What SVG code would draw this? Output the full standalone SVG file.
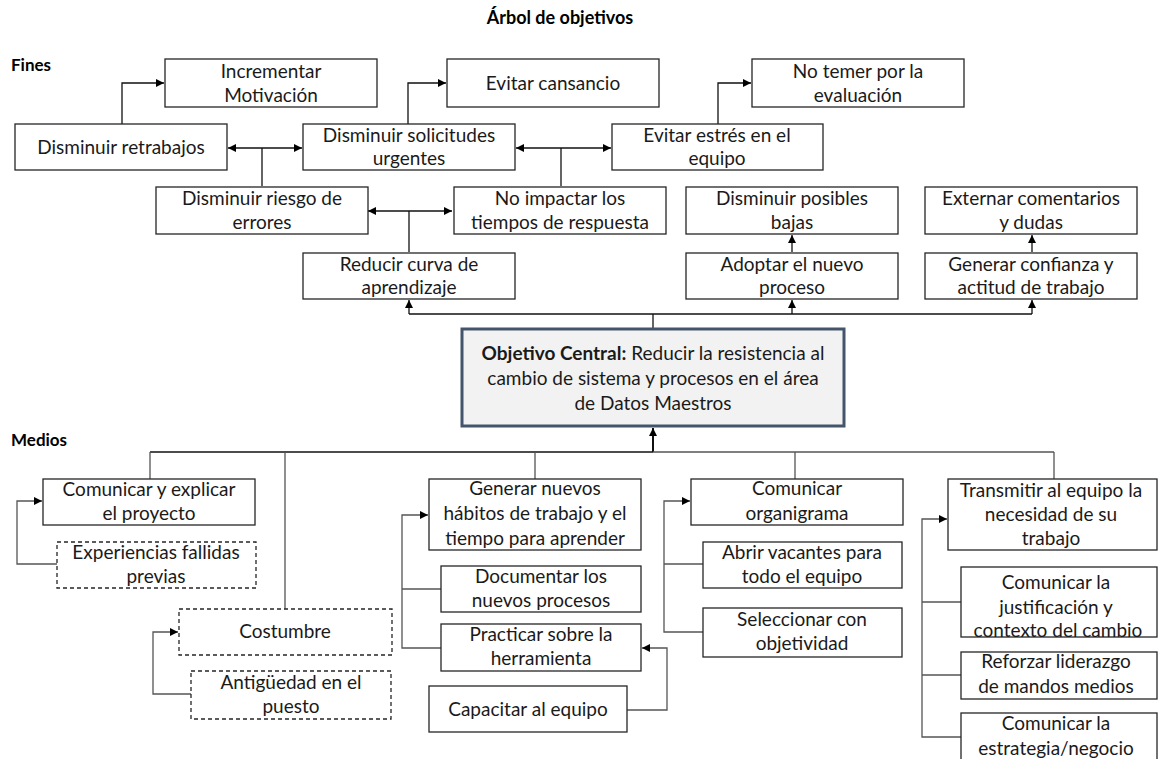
<svg xmlns="http://www.w3.org/2000/svg" width="1158" height="759" viewBox="0 0 1158 759">
<style>
.b{fill:#fff;stroke:#262626;stroke-width:1.3}
.d{stroke-dasharray:4 3}
.t{font-family:Lato,"Liberation Sans",sans-serif;font-size:19px;fill:#1a1a1a;text-anchor:middle}
.h{font-family:Lato,"Liberation Sans",sans-serif;font-size:17px;font-weight:bold;fill:#000}
.c{fill:none;stroke:#111;stroke-width:1.3}
.g{fill:none;stroke:#555;stroke-width:1.3}
</style>
<defs>
<marker id="a" viewBox="0 0 10 10" refX="10" refY="5" markerWidth="8" markerHeight="8" markerUnits="userSpaceOnUse" orient="auto-start-reverse"><path d="M0,0L10,5L0,10z" fill="#000"/></marker>
</defs>
<rect width="1158" height="759" fill="#fff"/>
<text class="h" x="560" y="24" text-anchor="middle" style="font-size:18px">Árbol de objetivos</text>
<text class="h" x="11" y="71">Fines</text>
<text class="h" x="11" y="446">Medios</text>

<g id="connectors">
<path class="c" d="M122,124V83H164" marker-end="url(#a)"/>
<path class="c" d="M408,124V83H446" marker-end="url(#a)"/>
<path class="c" d="M718,124V83H751" marker-end="url(#a)"/>
<path class="c" d="M228,148H302" marker-start="url(#a)" marker-end="url(#a)"/>
<path class="c" d="M262,148V186"/>
<path class="c" d="M516,148H611" marker-start="url(#a)" marker-end="url(#a)"/>
<path class="c" d="M561,148V186"/>
<path class="c" d="M368,211H452" marker-start="url(#a)" marker-end="url(#a)"/>
<path class="c" d="M409,211V252"/>
<path class="c" d="M792,252V235" marker-end="url(#a)"/>
<path class="c" d="M1032,252V235" marker-end="url(#a)"/>
<path class="c" d="M409,314H1032"/>
<path class="c" d="M409,314V300" marker-end="url(#a)"/>
<path class="c" d="M792,314V300" marker-end="url(#a)"/>
<path class="c" d="M1032,314V300" marker-end="url(#a)"/>
<path class="c" d="M653,314V329"/>
<path class="c" d="M653,452V428" marker-end="url(#a)" style="stroke-width:2"/>
<path class="c" d="M150,452H653" style="stroke-width:1.6"/>
<path class="g" d="M653,452H1054"/>
<path class="g" d="M150,452V479M285,452V609M535,452V479"/>
<path class="g" d="M795,452V479M1054,452V479"/>
<path class="g" d="M57,564H17V501H42" marker-end="url(#a)"/>
<path class="g" d="M191,694H153V632H178" marker-end="url(#a)"/>
<path class="g" d="M441,648H402V515H428" marker-end="url(#a)"/>
<path class="g" d="M402,589H441"/>
<path class="g" d="M627,710H667V648H642" marker-end="url(#a)"/>
<path class="g" d="M703,632H664V501H690" marker-end="url(#a)"/>
<path class="g" d="M664,564H703"/>
<path class="g" d="M961,737H922V519H947" marker-end="url(#a)"/>
<path class="g" d="M922,602H961M922,675H961"/>
</g>

<g id="n-incrementar"><rect class="b" x="165" y="59" width="212" height="48"/><text class="t" x="271" y="78">Incrementar</text><text class="t" x="271" y="102">Motivación</text></g>
<g id="n-cansancio"><rect class="b" x="447" y="59" width="212" height="48"/><text class="t" x="553" y="90">Evitar cansancio</text></g>
<g id="n-temer"><rect class="b" x="752" y="59" width="212" height="48"/><text class="t" x="858" y="78">No temer por la</text><text class="t" x="858" y="102">evaluación</text></g>
<g id="n-retrabajos"><rect class="b" x="15" y="124" width="212" height="46"/><text class="t" x="121" y="154">Disminuir retrabajos</text></g>
<g id="n-solicitudes"><rect class="b" x="303" y="124" width="212" height="46"/><text class="t" x="409" y="142">Disminuir solicitudes</text><text class="t" x="409" y="165">urgentes</text></g>
<g id="n-estres"><rect class="b" x="612" y="124" width="211" height="46"/><text class="t" x="717" y="142">Evitar estrés en el</text><text class="t" x="717" y="165">equipo</text></g>
<g id="n-riesgo"><rect class="b" x="156" y="187" width="212" height="47"/><text class="t" x="262" y="205">Disminuir riesgo de</text><text class="t" x="262" y="229">errores</text></g>
<g id="n-impactar"><rect class="b" x="454" y="187" width="212" height="47"/><text class="t" x="560" y="205">No impactar los</text><text class="t" x="560" y="229">tiempos de respuesta</text></g>
<g id="n-bajas"><rect class="b" x="686" y="187" width="212" height="47"/><text class="t" x="792" y="205">Disminuir posibles</text><text class="t" x="792" y="229">bajas</text></g>
<g id="n-externar"><rect class="b" x="925" y="187" width="212" height="47"/><text class="t" x="1031" y="205">Externar comentarios</text><text class="t" x="1031" y="229">y dudas</text></g>
<g id="n-curva"><rect class="b" x="303" y="253" width="212" height="46"/><text class="t" x="409" y="271">Reducir curva de</text><text class="t" x="409" y="294">aprendizaje</text></g>
<g id="n-adoptar"><rect class="b" x="686" y="253" width="212" height="46"/><text class="t" x="792" y="271">Adoptar el nuevo</text><text class="t" x="792" y="294">proceso</text></g>
<g id="n-confianza"><rect class="b" x="925" y="253" width="212" height="46"/><text class="t" x="1031" y="271">Generar confianza y</text><text class="t" x="1031" y="294">actitud de trabajo</text></g>

<g id="n-central"><rect x="462" y="329" width="382" height="97" fill="#f2f2f2" stroke="#44546a" stroke-width="3"/>
<text class="t" x="653" y="360"><tspan font-weight="bold">Objetivo Central:</tspan> Reducir la resistencia al</text>
<text class="t" x="653" y="385">cambio de sistema y procesos en el área</text>
<text class="t" x="653" y="410">de Datos Maestros</text></g>

<g id="n-comunicar"><rect class="b" x="43" y="479" width="212" height="46"/><text class="t" x="149" y="496">Comunicar y explicar</text><text class="t" x="149" y="520">el proyecto</text></g>
<g id="n-experiencias"><rect class="b d" x="57" y="542" width="199" height="46"/><text class="t" x="156" y="559">Experiencias fallidas</text><text class="t" x="156" y="583">previas</text></g>
<g id="n-costumbre"><rect class="b d" x="179" y="609" width="213" height="46"/><text class="t" x="285" y="638">Costumbre</text></g>
<g id="n-antiguedad"><rect class="b d" x="191" y="671" width="200" height="48"/><text class="t" x="291" y="689">Antigüedad en el</text><text class="t" x="291" y="713">puesto</text></g>
<g id="n-habitos"><rect class="b" x="429" y="479" width="212" height="71"/><text class="t" x="535" y="495">Generar nuevos</text><text class="t" x="535" y="520">hábitos de trabajo y el</text><text class="t" x="535" y="545">tiempo para aprender</text></g>
<g id="n-documentar"><rect class="b" x="441" y="566" width="200" height="46"/><text class="t" x="541" y="583">Documentar los</text><text class="t" x="541" y="607">nuevos procesos</text></g>
<g id="n-practicar"><rect class="b" x="441" y="624" width="200" height="47"/><text class="t" x="541" y="641">Practicar sobre la</text><text class="t" x="541" y="665">herramienta</text></g>
<g id="n-capacitar"><rect class="b" x="429" y="686" width="198" height="46"/><text class="t" x="528" y="716">Capacitar al equipo</text></g>
<g id="n-organigrama"><rect class="b" x="691" y="479" width="212" height="46"/><text class="t" x="797" y="495">Comunicar</text><text class="t" x="797" y="520">organigrama</text></g>
<g id="n-vacantes"><rect class="b" x="703" y="542" width="199" height="46"/><text class="t" x="802" y="559">Abrir vacantes para</text><text class="t" x="802" y="583">todo el equipo</text></g>
<g id="n-seleccionar"><rect class="b" x="703" y="608" width="199" height="49"/><text class="t" x="802" y="626">Seleccionar con</text><text class="t" x="802" y="650">objetividad</text></g>
<g id="n-transmitir"><rect class="b" x="948" y="479" width="209" height="71"/><text class="t" x="1051" y="497">Transmitir al equipo la</text><text class="t" x="1051" y="521">necesidad de su</text><text class="t" x="1051" y="545">trabajo</text></g>
<g id="n-justificacion"><rect class="b" x="961" y="567" width="196" height="70"/><text class="t" x="1056" y="589">Comunicar la</text><text class="t" x="1056" y="614">justificación y</text><text class="t" x="1058" y="637">contexto del cambio</text></g>
<g id="n-liderazgo"><rect class="b" x="961" y="652" width="196" height="47"/><text class="t" x="1056" y="668">Reforzar liderazgo</text><text class="t" x="1056" y="693">de mandos medios</text></g>
<g id="n-estrategia"><rect class="b" x="961" y="713" width="196" height="60"/><text class="t" x="1056" y="730">Comunicar la</text><text class="t" x="1056" y="755">estrategia/negocio</text></g>
</svg>
